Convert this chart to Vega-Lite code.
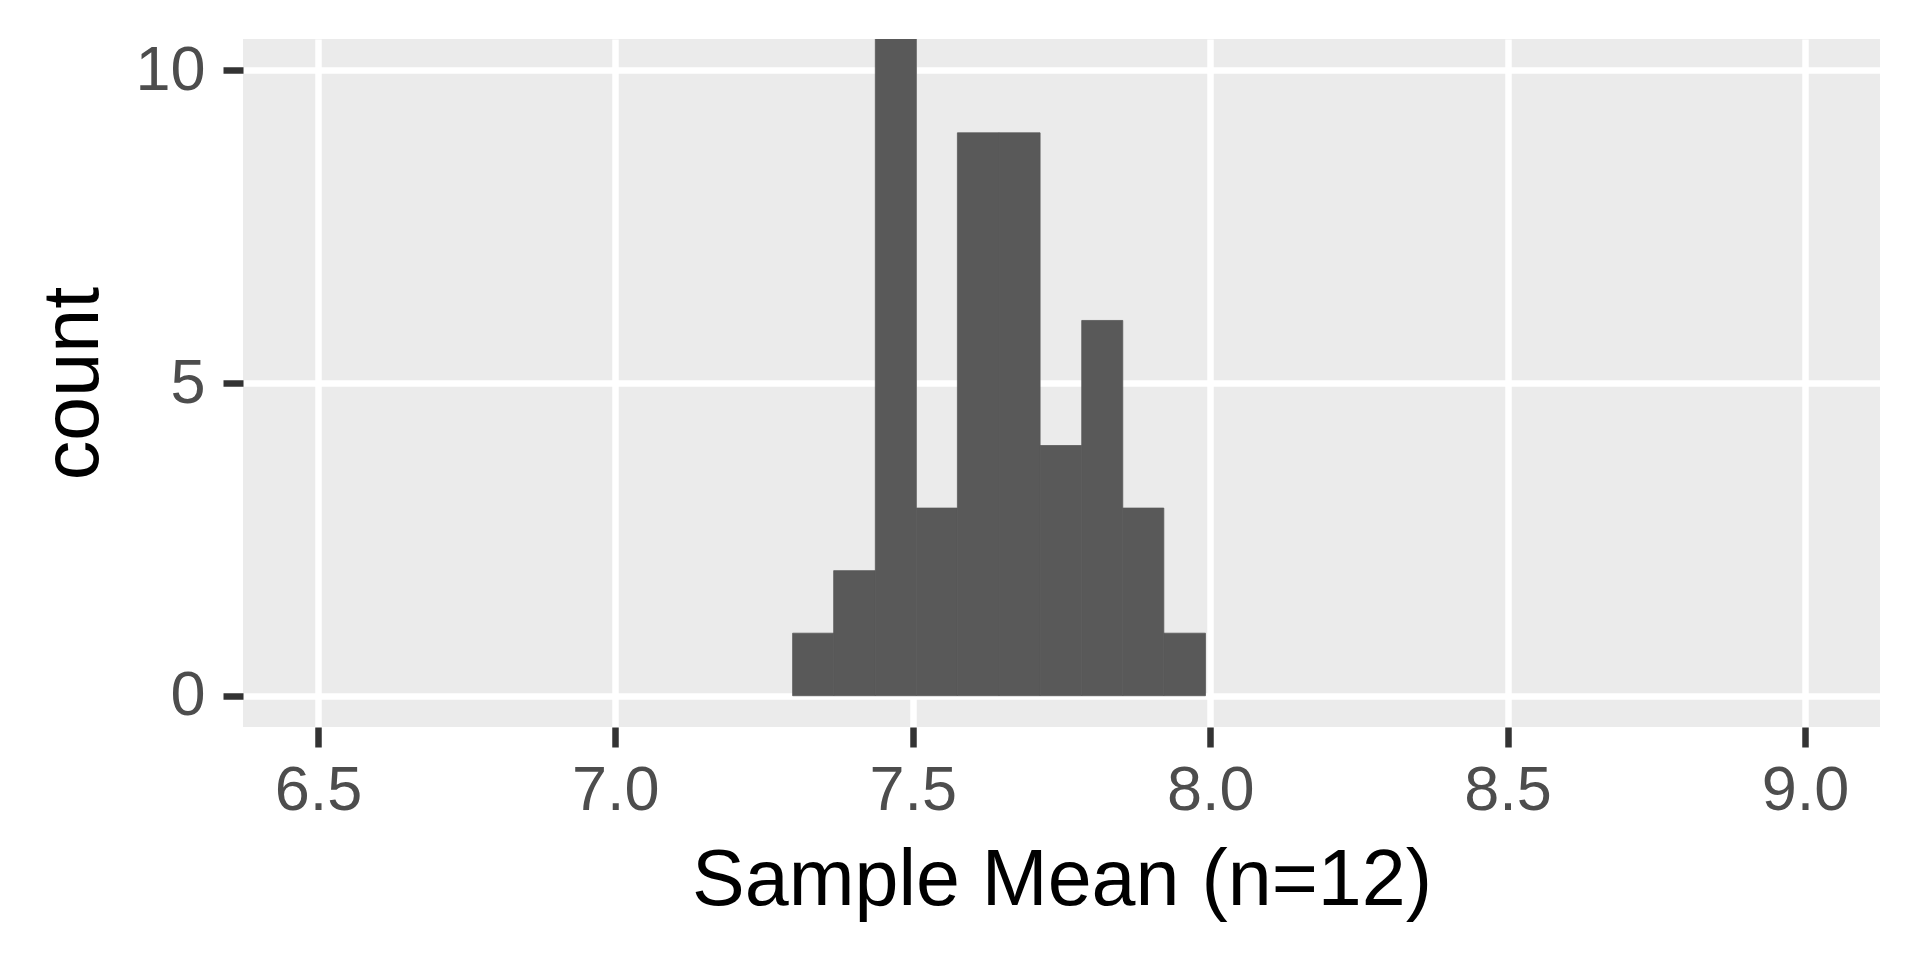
{
  "$schema": "https://vega.github.io/schema/vega-lite/v6.json",
  "width": 1637,
  "height": 688,
  "autosize": {"type": "none"},
  "padding": {"left": 243, "top": 39, "right": 40, "bottom": 233},
  "background": "white",
  "data": {
    "values": [
      {"bin_start": 7.298, "bin_end": 7.367, "count": 1},
      {"bin_start": 7.367, "bin_end": 7.437, "count": 2},
      {"bin_start": 7.437, "bin_end": 7.506, "count": 12},
      {"bin_start": 7.506, "bin_end": 7.575, "count": 3},
      {"bin_start": 7.575, "bin_end": 7.645, "count": 9},
      {"bin_start": 7.645, "bin_end": 7.714, "count": 9},
      {"bin_start": 7.714, "bin_end": 7.784, "count": 4},
      {"bin_start": 7.784, "bin_end": 7.853, "count": 6},
      {"bin_start": 7.853, "bin_end": 7.922, "count": 3},
      {"bin_start": 7.922, "bin_end": 7.992, "count": 1}
    ]
  },
  "mark": {"type": "bar", "color": "#595959", "clip": true, "stroke": "#595959", "strokeWidth": 0.8},
  "encoding": {
    "x": {
      "field": "bin_start",
      "type": "quantitative",
      "title": "Sample Mean (n=12)",
      "scale": {"domain": [6.374, 9.126], "nice": false, "zero": false},
      "axis": {"values": [6.5, 7.0, 7.5, 8.0, 8.5, 9.0], "format": ".1f", "titlePadding": 20}
    },
    "x2": {"field": "bin_end"},
    "y": {
      "field": "count",
      "type": "quantitative",
      "title": "count",
      "scale": {"domain": [-0.5, 10.5], "nice": false, "zero": false},
      "axis": {"values": [0, 5, 10], "titlePadding": 20}
    },
    "y2": {"datum": 0}
  },
  "config": {
    "view": {"fill": "#EBEBEB", "stroke": null},
    "axis": {
      "domain": false,
      "grid": true,
      "gridColor": "white",
      "gridWidth": 6.5,
      "tickColor": "#333333",
      "tickWidth": 6.5,
      "tickSize": 20,
      "labelFont": "Liberation Sans",
      "labelFontSize": 63,
      "labelColor": "#4D4D4D",
      "labelPadding": 12,
      "titleFont": "Liberation Sans",
      "titleFontSize": 79,
      "titleFontWeight": "normal",
      "titleColor": "black"
    },
    "axisY": {"labelPadding": 18}
  }
}
